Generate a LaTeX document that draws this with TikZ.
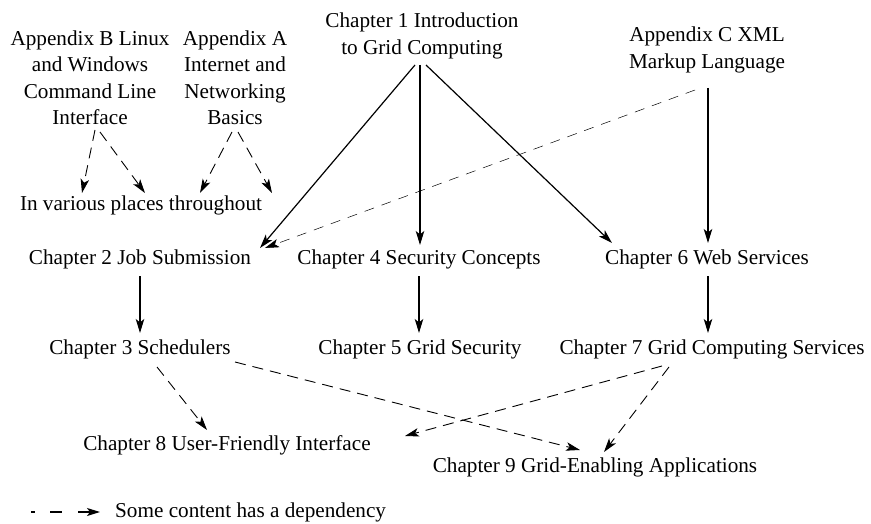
\documentclass[tikz,border=0pt]{standalone}
\usepackage{fontspec}
\setmainfont{Liberation Serif}
\usetikzlibrary{arrows.meta,calc}
\tikzset{
  lbl/.style={font=\fontsize{21.2}{26.5}\selectfont, inner sep=0pt, align=center},
  tipstyle/.style={-{Stealth[length=14pt,width=8.5pt,inset=3.5pt]}},
  solidarr/.style={tipstyle, line width=1.2pt},
  dasharr/.style={tipstyle, line width=0.9pt, dash pattern=on 11pt off 7pt},
  faintarr/.style={tipstyle, line width=0.5pt, dash pattern=on 10pt off 8pt},
  legarr/.style={-{Stealth[length=13pt,width=8pt,inset=3pt]}, line width=1.4pt, dash pattern=on 4pt off 15pt on 12pt off 16pt on 30pt}
}
\begin{document}
\begin{tikzpicture}[x=1pt,y=-1pt]
\fill[white] (0,0) rectangle (871,524);
\useasboundingbox (0,0) rectangle (871,524);
% nodes
\node[lbl] (apb) at (90,77.5) {Appendix B Linux\\and Windows\\Command Line\\Interface};
\node[lbl] (apa) at (235,77.5) {Appendix A\\Internet and\\Networking\\Basics};
\node[lbl] (ch1) at (422,36) {Chapter 1 Introduction\\to Grid Computing};
\node[lbl] (apc) at (707,50) {Appendix C XML\\Markup Language};
\node[lbl] (inv) at (141,205) {In various places throughout};
\node[lbl] (ch2) at (140,259) {Chapter 2 Job Submission};
\node[lbl] (ch4) at (419,259) {Chapter 4 Security Concepts};
\node[lbl] (ch6) at (707,259) {Chapter 6 Web Services};
\node[lbl] (ch3) at (140,349) {Chapter 3 Schedulers};
\node[lbl] (ch5) at (420,349) {Chapter 5 Grid Security};
\node[lbl] (ch7) at (712,349) {Chapter 7 Grid Computing Services};
\node[lbl] (ch8) at (227,445) {Chapter 8 User-Friendly Interface};
\node[lbl] (ch9) at (595,467) {Chapter 9 Grid-Enabling Applications};
\node[lbl, anchor=west] (leg) at (115,512) {Some content has a dependency};
\coordinate (legstart) at (31,512);
% appendix B and A
\draw[dasharr] ($(apb)+(5,52.5)$) -- ($(inv)+(-59,-12)$);
\draw[dasharr] ($(apb)+(10,54.5)$) -- ($(inv)+(4,-12)$);
\draw[dasharr] ($(apa)+(-3,54.5)$) -- ($(inv)+(59,-12)$);
\draw[dasharr] ($(apa)+(3,54.5)$) -- ($(inv)+(131,-12)$);
% chapter 1
\draw[solidarr] ($(ch1)+(-7,29)$) -- ($(ch2)+(120,-11)$);
\draw[solidarr] ($(ch1)+(-2,29)$) -- ($(ch4)+(1,-14)$);
\draw[solidarr] ($(ch1)+(4,29)$) -- ($(ch6)+(-95,-16)$);
% appendix C
\draw[solidarr] ($(apc)+(1,38)$) -- ($(ch6)+(1,-16)$);
\draw[faintarr] ($(apc)+(-12,40)$) -- ($(ch2)+(125,-11)$);
% second row down
\draw[solidarr] ($(ch2)+(0,17)$) -- ($(ch3)+(0,-16)$);
\draw[solidarr] ($(ch4)+(0,17)$) -- ($(ch5)+(-1,-16)$);
\draw[solidarr] ($(ch6)+(1,17)$) -- ($(ch7)+(-4,-16)$);
% third row down
\draw[dasharr] ($(ch3)+(17,18)$) -- ($(ch8)+(-20,-15)$);
\draw[dasharr] ($(ch3)+(95,13)$) -- ($(ch9)+(-15,-17)$);
\draw[dasharr] ($(ch7)+(-50,17)$) -- ($(ch8)+(178,-9)$);
\draw[dasharr] ($(ch7)+(-43,18)$) -- ($(ch9)+(9,-15)$);
% legend
\draw[legarr] (legstart) -- ($(leg.west)+(-15,0)$);
\end{tikzpicture}
\end{document}
